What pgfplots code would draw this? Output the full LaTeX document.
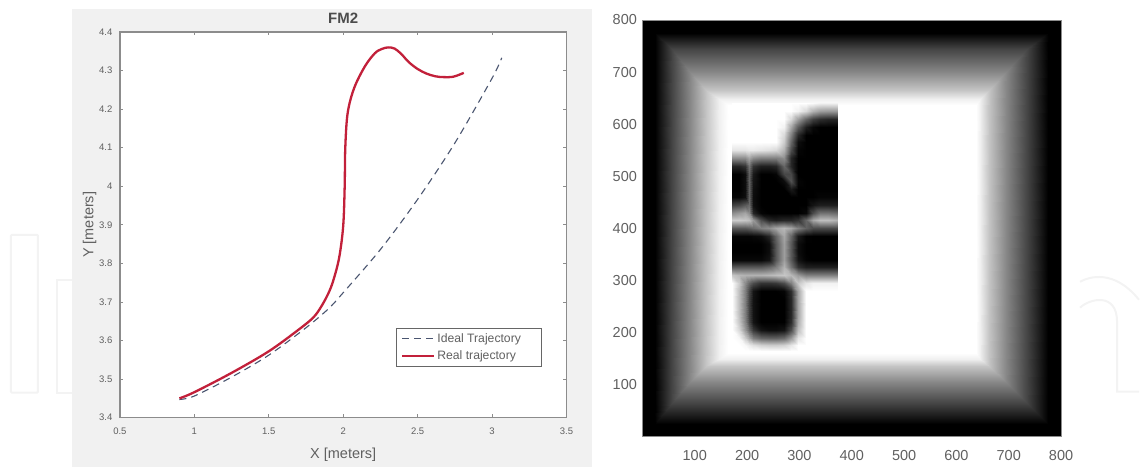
\documentclass[border=0pt]{standalone}
\usepackage{pgfplots}
\pgfplotsset{compat=1.18}
\usepgfplotslibrary{patchplots}
\usepackage{fontspec}
\setmainfont{Liberation Sans}
\definecolor{panelbg}{HTML}{F1F1F1}
\definecolor{framegray}{HTML}{8C8C8C}
\definecolor{labelgray}{HTML}{606060}
\definecolor{idealblue}{HTML}{4A5570}
\definecolor{realred}{HTML}{C2203A}
\definecolor{wmark}{HTML}{F3F3F3}

\begin{document}
\begin{tikzpicture}[x=1pt,y=1pt]
	% page size and the grey figure background of the left panel
	\path (0,0) rectangle (1140,467);
	\fill[panelbg] (72,0) rectangle (593,458);
	% faint watermark outlines
	\draw[wmark,line width=2pt,rounded corners=1pt] (11,74) rectangle (38,232);
	\draw[wmark,line width=2pt] (72,187) -- (57,187) -- (57,74) -- (72,74);
	\draw[wmark,line width=2pt] (1081,185) .. controls (1090,190) and (1115,198) .. (1140,167);
	\draw[wmark,line width=2pt] (1081,159) .. controls (1090,168) and (1118,175) .. (1118,145)
		-- (1118,75) -- (1140,75);

	\begin{axis}[
		at={(120pt,49pt)},anchor=south west,
		scale only axis,width=447pt,height=386pt,
		xmin=0.5,xmax=3.5,ymin=3.4,ymax=4.4,
		xtick={0.5,1,1.5,2,2.5,3,3.5},
		ytick={3.4,3.5,3.6,3.7,3.8,3.9,4,4.1,4.2,4.3,4.4},
		xticklabels={0.5,1,1.5,2,2.5,3,3.5},
		yticklabels={3.4,3.5,3.6,3.7,3.8,3.9,4,4.1,4.2,4.3,4.4},
		axis background/.style={fill=white},
		axis line style={framegray,line width=1.6pt},
		tick style={framegray,line width=0.8pt},
		tick align=inside,
		major tick length=3.5pt,
		ticklabel style={font=\fontsize{9.5}{11}\selectfont,text=labelgray},
		xticklabel shift=7pt,
		yticklabel shift=4pt,
		title={\textbf{FM2}},
		title style={font=\fontsize{15}{17}\selectfont,text=black!70,at={(0.5,1)},yshift=-1pt},
		xlabel={X [meters]},
		ylabel={Y [meters]},
		label style={font=\fontsize{14.5}{16}\selectfont,text=labelgray},
		xlabel style={yshift=-6pt},
		ylabel style={yshift=-4pt},
		legend cell align=left,
		legend image code/.code={\draw[#1] (0pt,0pt) -- (24pt,0pt);\path (0pt,0pt) -- (32pt,0pt);},
		legend style={at={(276pt,51pt)},anchor=south west,
			font=\fontsize{12.2}{14}\selectfont,text=labelgray,
			draw=black!60,line width=0.9pt,
			inner xsep=5pt,inner ysep=3pt,row sep=3pt},
		]
	\addplot[draw=idealblue,line width=1.1pt,dash pattern=on 7pt off 5pt,smooth] coordinates {
		(0.90,3.447) (1.00,3.456) (1.25,3.505) (1.50,3.562) (1.75,3.633)
		(1.90,3.682) (2.00,3.724) (2.25,3.836) (2.50,3.966) (2.75,4.112)
		(3.00,4.280) (3.065,4.333)
	};
	\addlegendentry{Ideal Trajectory\rule{14pt}{0pt}}
	\addplot[draw=realred,line width=2.3pt,smooth,tension=0.55] coordinates {
		(0.90,3.450) (1.00,3.466) (1.25,3.516) (1.50,3.572) (1.70,3.628)
		(1.80,3.660) (1.854,3.689) (1.90,3.722) (1.933,3.755) (1.973,3.815)
		(2.000,3.897) (2.010,4.000) (2.014,4.100) (2.030,4.190) (2.074,4.255)
		(2.146,4.311) (2.213,4.345) (2.260,4.356) (2.302,4.360) (2.345,4.357)
		(2.390,4.343) (2.440,4.322) (2.500,4.304) (2.560,4.292) (2.620,4.285)
		(2.672,4.283) (2.740,4.284) (2.810,4.294)
	};
	\addlegendentry{Real trajectory}
	\end{axis}

	\begin{axis}[
		at={(643pt,30pt)},anchor=south west,
		scale only axis,width=419pt,height=417pt,
		view={0}{90},
		xmin=0,xmax=800,ymin=0,ymax=800,
		xtick={100,200,300,400,500,600,700,800},
		ytick={100,200,300,400,500,600,700,800},
		axis on top,
		axis line style={framegray,line width=0.6pt},
		major tick length=0pt,
		ticklabel style={font=\fontsize{14.5}{16}\selectfont,text=labelgray},
		xticklabel shift=10pt,
		yticklabel shift=2pt,
		/pgf/number format/assume math mode=true,
		colormap={bw}{gray(0cm)=(0); gray(1cm)=(1)},
		point meta min=0,point meta max=1,
		]
	% square frame: one closed ring per grey level
	\addplot3[surf,shader=interp,mesh/cols=5,mesh/ordering=x varies,point meta=z] table[row sep=\\] {
		x y z\\
		0 0 0\\800 0 0\\800 800 0\\0 800 0\\0 0 0\\
		24 25 0\\775 25 0\\775 775 0\\24 775 0\\24 25 0\\
		57 65 .27\\735 65 .27\\735 745 .27\\57 745 .27\\57 65 .27\\
		90 105 .53\\695 105 .53\\695 700 .53\\90 700 .53\\90 105 .53\\
		122 135 .77\\662 135 .77\\662 665 .77\\122 665 .77\\122 135 .77\\
		147 150 .94\\645 150 .94\\645 648 .94\\147 648 .94\\147 150 .94\\
		163 160 1\\638 160 1\\638 637 1\\163 637 1\\163 160 1\\
	};
	% dark blobs, columns x = 172 ... 372, rows y = 640 ... 165
	\addplot3[surf,shader=interp,mesh/cols=16,mesh/ordering=x varies,point meta=z] table[row sep=\\] {
		x y z\\
		172 640 1\\185 640 1\\196 640 1\\204 640 1\\212 640 1\\226 640 1\\242 640 1\\256 640 1\\270 640 1\\284 640 1\\298 640 1\\312 640 1\\326 640 .98\\340 640 .95\\355 640 .95\\372 640 .95\\
		172 625 1\\185 625 1\\196 625 1\\204 625 1\\212 625 1\\226 625 1\\242 625 1\\256 625 1\\270 625 1\\284 625 1\\298 625 .95\\312 625 .85\\326 625 .7\\340 625 .62\\355 625 .6\\372 625 .6\\
		172 610 1\\185 610 1\\196 610 1\\204 610 1\\212 610 1\\226 610 1\\242 610 1\\256 610 1\\270 610 1\\284 610 .85\\298 610 .62\\312 610 .4\\326 610 .25\\340 610 .18\\355 610 .15\\372 610 .15\\
		172 595 1\\185 595 1\\196 595 1\\204 595 1\\212 595 1\\226 595 1\\242 595 1\\256 595 1\\270 595 .95\\284 595 .65\\298 595 .35\\312 595 .12\\326 595 .03\\340 595 0\\355 595 0\\372 595 0\\
		172 580 1\\185 580 1\\196 580 1\\204 580 1\\212 580 1\\226 580 1\\242 580 1\\256 580 1\\270 580 .85\\284 580 .5\\298 580 .15\\312 580 0\\326 580 0\\340 580 0\\355 580 0\\372 580 0\\
		172 565 1\\185 565 1\\196 565 1\\204 565 1\\212 565 1\\226 565 1\\242 565 1\\256 565 1\\270 565 .8\\284 565 .4\\298 565 .05\\312 565 0\\326 565 0\\340 565 0\\355 565 0\\372 565 0\\
		172 550 .9\\185 550 .9\\196 550 .9\\204 550 .92\\212 550 .92\\226 550 .9\\242 550 .88\\256 550 .85\\270 550 .7\\284 550 .3\\298 550 .02\\312 550 0\\326 550 0\\340 550 0\\355 550 0\\372 550 0\\
		172 535 .55\\185 535 .55\\196 535 .55\\204 535 .65\\212 535 .55\\226 535 .5\\242 535 .5\\256 535 .5\\270 535 .55\\284 535 .15\\298 535 0\\312 535 0\\326 535 0\\340 535 0\\355 535 0\\372 535 0\\
		172 520 .15\\185 520 .15\\196 520 .2\\204 520 .45\\212 520 .2\\226 520 .12\\242 520 .12\\256 520 .15\\270 520 .4\\284 520 .15\\298 520 0\\312 520 0\\326 520 0\\340 520 0\\355 520 0\\372 520 0\\
		172 505 0\\185 505 0\\196 505 .05\\204 505 .38\\212 505 .1\\226 505 0\\242 505 0\\256 505 .02\\270 505 .28\\284 505 .28\\298 505 0\\312 505 0\\326 505 0\\340 505 0\\355 505 0\\372 505 0\\
		172 490 0\\185 490 0\\196 490 .05\\204 490 .38\\212 490 .08\\226 490 0\\242 490 0\\256 490 0\\270 490 .05\\284 490 .32\\298 490 .02\\312 490 0\\326 490 0\\340 490 0\\355 490 0\\372 490 0\\
		172 475 0\\185 475 0\\196 475 .05\\204 475 .38\\212 475 .06\\226 475 0\\242 475 0\\256 475 0\\270 475 0\\284 475 .1\\298 475 0\\312 475 0\\326 475 0\\340 475 0\\355 475 0\\372 475 0\\
		172 460 .02\\185 460 .02\\196 460 .06\\204 460 .38\\212 460 .05\\226 460 0\\242 460 0\\256 460 0\\270 460 0\\284 460 0\\298 460 0\\312 460 0\\326 460 0\\340 460 .02\\355 460 .02\\372 460 .02\\
		172 445 .25\\185 445 .28\\196 445 .35\\204 445 .42\\212 445 .06\\226 445 0\\242 445 0\\256 445 0\\270 445 0\\284 445 0\\298 445 0\\312 445 0\\326 445 .08\\340 445 .12\\355 445 .12\\372 445 .12\\
		172 430 .55\\185 430 .6\\196 430 .65\\204 430 .55\\212 430 .15\\226 430 .02\\242 430 0\\256 430 0\\270 430 0\\284 430 0\\298 430 0\\312 430 .03\\326 430 .3\\340 430 .45\\355 430 .45\\372 430 .42\\
		172 415 .8\\185 415 .8\\196 415 .78\\204 415 .75\\212 415 .6\\226 415 .3\\242 415 .15\\256 415 .12\\270 415 .15\\284 415 .15\\298 415 .2\\312 415 .4\\326 415 .65\\340 415 .75\\355 415 .75\\372 415 .7\\
		172 400 .35\\185 400 .35\\196 400 .35\\204 400 .38\\212 400 .42\\226 400 .5\\242 400 .55\\256 400 .65\\270 400 .72\\284 400 .65\\298 400 .5\\312 400 .38\\326 400 .3\\340 400 .3\\355 400 .3\\372 400 .3\\
		172 385 .02\\185 385 .02\\196 385 .02\\204 385 .02\\212 385 .03\\226 385 .05\\242 385 .15\\256 385 .4\\270 385 .65\\284 385 .4\\298 385 .1\\312 385 .01\\326 385 0\\340 385 0\\355 385 0\\372 385 0\\
		172 370 0\\185 370 0\\196 370 0\\204 370 0\\212 370 0\\226 370 0\\242 370 .05\\256 370 .35\\270 370 .62\\284 370 .35\\298 370 .05\\312 370 0\\326 370 0\\340 370 0\\355 370 0\\372 370 0\\
		172 355 0\\185 355 0\\196 355 0\\204 355 0\\212 355 0\\226 355 0\\242 355 .05\\256 355 .35\\270 355 .62\\284 355 .35\\298 355 .05\\312 355 0\\326 355 0\\340 355 0\\355 355 0\\372 355 0\\
		172 340 .03\\185 340 .03\\196 340 .03\\204 340 .03\\212 340 .03\\226 340 .03\\242 340 .08\\256 340 .35\\270 340 .62\\284 340 .35\\298 340 .08\\312 340 .01\\326 340 0\\340 340 0\\355 340 0\\372 340 0\\
		172 325 .35\\185 325 .35\\196 325 .35\\204 325 .35\\212 325 .35\\226 325 .35\\242 325 .4\\256 325 .5\\270 325 .7\\284 325 .45\\298 325 .2\\312 325 .12\\326 325 .12\\340 325 .12\\355 325 .12\\372 325 .12\\
		172 310 .78\\185 310 .72\\196 310 .7\\204 310 .7\\212 310 .7\\226 310 .7\\242 310 .72\\256 310 .75\\270 310 .78\\284 310 .72\\298 310 .6\\312 310 .5\\326 310 .5\\340 310 .5\\355 310 .5\\372 310 .5\\
		172 295 1\\185 295 .8\\196 295 .55\\204 295 .4\\212 295 .3\\226 295 .2\\242 295 .2\\256 295 .22\\270 295 .3\\284 295 .5\\298 295 .78\\312 295 .9\\326 295 .95\\340 295 .95\\355 295 .95\\372 295 .95\\
		172 280 1\\185 280 .75\\196 280 .5\\204 280 .27\\212 280 .08\\226 280 0\\242 280 0\\256 280 0\\270 280 .02\\284 280 .18\\298 280 .65\\312 280 1\\326 280 1\\340 280 1\\355 280 1\\372 280 1\\
		172 265 1\\185 265 .75\\196 265 .5\\204 265 .25\\212 265 .07\\226 265 0\\242 265 0\\256 265 0\\270 265 0\\284 265 .15\\298 265 .65\\312 265 1\\326 265 1\\340 265 1\\355 265 1\\372 265 1\\
		172 250 1\\185 250 .75\\196 250 .5\\204 250 .25\\212 250 .07\\226 250 0\\242 250 0\\256 250 0\\270 250 0\\284 250 .15\\298 250 .65\\312 250 1\\326 250 1\\340 250 1\\355 250 1\\372 250 1\\
		172 235 1\\185 235 .75\\196 235 .5\\204 235 .25\\212 235 .07\\226 235 0\\242 235 0\\256 235 0\\270 235 0\\284 235 .15\\298 235 .65\\312 235 1\\326 235 1\\340 235 1\\355 235 1\\372 235 1\\
		172 220 1\\185 220 .78\\196 220 .52\\204 220 .27\\212 220 .08\\226 220 0\\242 220 0\\256 220 0\\270 220 0\\284 220 .17\\298 220 .68\\312 220 1\\326 220 1\\340 220 1\\355 220 1\\372 220 1\\
		172 205 1\\185 205 .85\\196 205 .6\\204 205 .4\\212 205 .22\\226 205 .08\\242 205 .05\\256 205 .05\\270 205 .08\\284 205 .3\\298 205 .75\\312 205 1\\326 205 1\\340 205 1\\355 205 1\\372 205 1\\
		172 190 1\\185 190 .97\\196 190 .8\\204 190 .65\\212 190 .5\\226 190 .4\\242 190 .38\\256 190 .38\\270 190 .42\\284 190 .6\\298 190 .9\\312 190 1\\326 190 1\\340 190 1\\355 190 1\\372 190 1\\
		172 175 1\\185 175 1\\196 175 .97\\204 175 .92\\212 175 .88\\226 175 .82\\242 175 .8\\256 175 .8\\270 175 .82\\284 175 .9\\298 175 1\\312 175 1\\326 175 1\\340 175 1\\355 175 1\\372 175 1\\
		172 165 1\\185 165 1\\196 165 1\\204 165 1\\212 165 1\\226 165 1\\242 165 1\\256 165 1\\270 165 1\\284 165 1\\298 165 1\\312 165 1\\326 165 1\\340 165 1\\355 165 1\\372 165 1\\
	};
	\end{axis}
\end{tikzpicture}
\end{document}
